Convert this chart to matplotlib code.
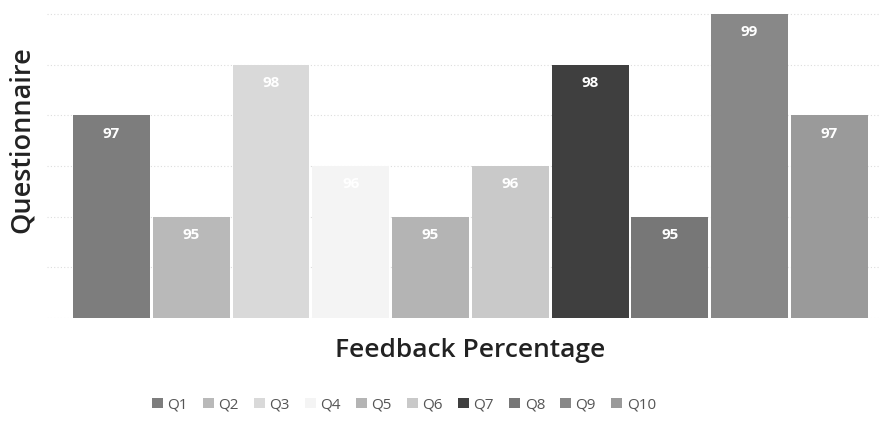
import matplotlib
matplotlib.use("Agg")
import matplotlib.pyplot as plt

# Chart data
questions = ["Q1", "Q2", "Q3", "Q4", "Q5", "Q6", "Q7", "Q8", "Q9", "Q10"]
feedback = [97, 95, 98, 96, 95, 96, 98, 95, 99, 97]
colors = ["#7d7d7d", "#b9b9b9", "#d9d9d9", "#f4f4f4", "#b4b4b4",
          "#c9c9c9", "#3f3f3f", "#777777", "#888888", "#9a9a9a"]

plt.rcParams['font.family'] = ['Open Sans', 'DejaVu Sans']

fig = plt.figure(figsize=(8.84, 4.28), dpi=100)
ax = fig.add_axes([0.053, 0.257, 0.942, 0.72])

x = list(range(len(questions)))
bars = ax.bar(x, feedback, width=0.965, color=colors, label=questions, zorder=2)

for b, v in zip(bars, feedback):
    ax.text(b.get_x() + b.get_width() / 2, v - 0.36, str(v), ha='center', va='center',
            color='white', fontsize=11, fontweight='bold', zorder=3)

ax.set_ylim(93, 99.08)
ax.set_xlim(-0.81, 9.63)
ax.set_yticks([93, 94, 95, 96, 97, 98, 99])
ax.yaxis.grid(True, color='#dddddd', linewidth=0.8, linestyle=(0, (1, 2)), zorder=0)
ax.tick_params(left=False, bottom=False, labelleft=False, labelbottom=False)
for s in ax.spines.values():
    s.set_visible(False)

fig.text(0.025, 0.673, "Questionnaire", rotation=90, ha='center', va='center',
         fontsize=19.5, fontweight='semibold', color='#222222')
fig.text(0.532, 0.182, "Feedback Percentage", ha='center', va='center',
         fontsize=19, fontweight='semibold', color='#222222')

fig.legend(bars, questions, loc='center', bbox_to_anchor=(0.457, 0.054), ncol=10,
           frameon=False, fontsize=11, handlelength=0.7, handleheight=0.7,
           handletextpad=0.3, columnspacing=1.0, labelcolor='#555555')

fig.savefig("out.png", dpi=100)
